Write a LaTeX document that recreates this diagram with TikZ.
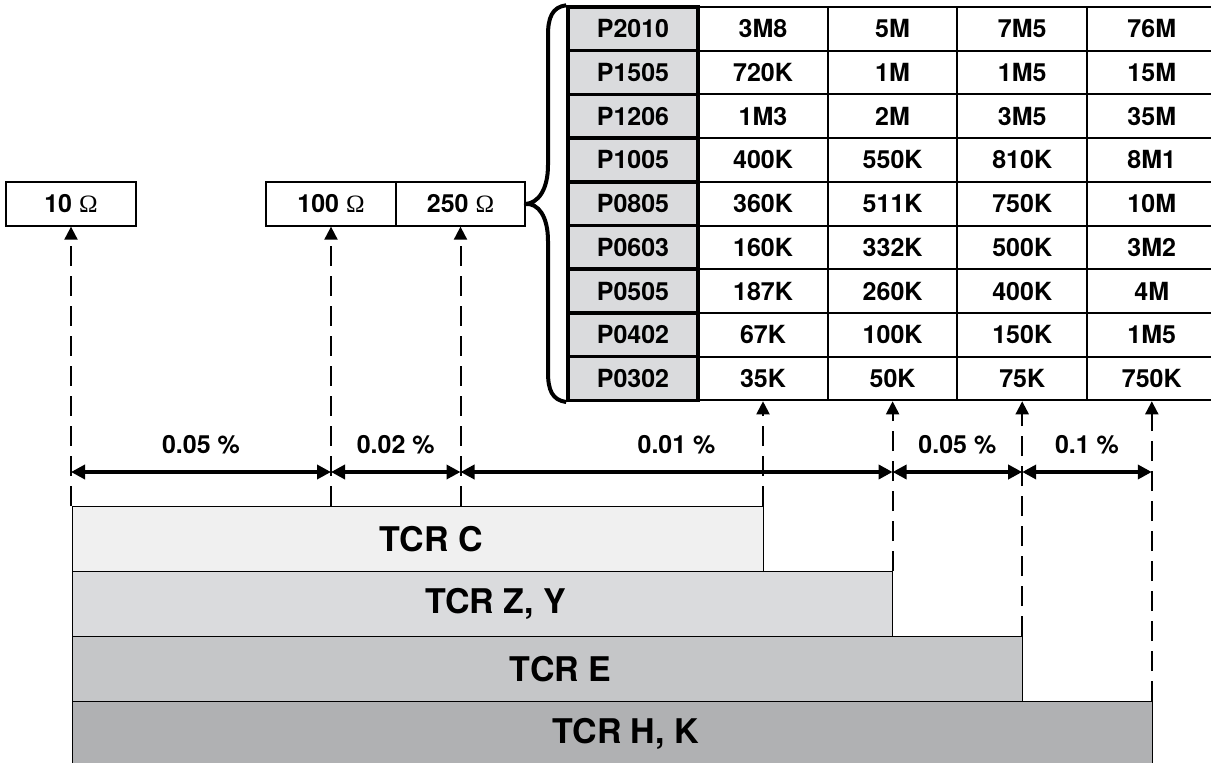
\documentclass[tikz,border=0pt]{standalone}
\usepackage{fontspec}
\setmainfont{TeX Gyre Heros}
\newfontfamily\omegafont{Liberation Serif}
\usepackage{tikz}
\usetikzlibrary{arrows.meta}
\definecolor{tcrpale}{HTML}{F0F0F0}
\definecolor{tcrlight}{HTML}{DADBDD}
\definecolor{tcrmid}{HTML}{C5C6C8}
\definecolor{tcrdark}{HTML}{B0B1B3}
\newcommand{\ohm}{{\omegafont\mdseries Ω}}

\begin{document}
\begin{tikzpicture}[x=1pt,y=-1pt,
 txt/.style={font=\fontsize{25}{29}\selectfont\bfseries},
 res/.style={draw,line width=1.3pt,minimum width=130pt,minimum height=44pt,inner sep=0pt,txt},
 vcell/.style={draw,line width=2pt,minimum width=129.6pt,minimum height=43.7pt,inner sep=0pt,txt},
 pcell/.style={draw,line width=3.5pt,fill=tcrlight,minimum width=130pt,minimum height=43.7pt,inner sep=0pt,txt},
 bar/.style={draw,line width=1.3pt,anchor=north west,minimum height=65pt,inner sep=0pt,
 label={[font=\fontsize{34}{40}\selectfont\bfseries,xshift=13pt]center:#1}},
 pct/.style={above=16pt,inner sep=0pt,txt},
 dim/.style={line width=4.5pt,{Triangle[length=14pt,width=14pt]}-{Triangle[length=14pt,width=14pt]}},
 lead/.style={line width=2pt,dash pattern=on 20pt off 10pt,-{Triangle[length=13pt,width=13pt]}}]
\useasboundingbox (0,0) rectangle (1211,763);
\clip (0,0) rectangle (1211,763);

% resistance values
\node[res] (o10) at (71,204) {10 \ohm};
\node[res] (o100) at (331,204) {100 \ohm};
\node[res,minimum width=129pt] (o250) at (460.5,204) {250 \ohm};

% size table
\foreach \code/\va/\vb/\vc/\vd [count=\row] in {P2010/3M8/5M/7M5/76M,P1505/720K/1M/1M5/15M,
 P1206/1M3/2M/3M5/35M,P1005/400K/550K/810K/8M1,P0805/360K/511K/750K/10M,
 P0603/160K/332K/500K/3M2,P0505/187K/260K/400K/4M,P0402/67K/100K/150K/1M5,
 P0302/35K/50K/75K/750K}{
 \foreach \val [count=\col] in {\va,\vb,\vc,\vd}
 \node[vcell] (cell-\row-\col) at ({633.4+129.6*\col},{7+43.7*(\row-0.5)}) {\val};
 \node[pcell] (code-\row) at (633,{7+43.7*(\row-0.5)}) {\code};
}

% brace
\draw[line width=4pt,line join=round] (code-1.north west) .. controls (552,7) and (548,18) .. (548,35)
 -- (548,165) .. controls (548,190) and (538,203) .. (o250.east)
 .. controls (538,203) and (548,216) .. (548,241) -- (548,372)
 .. controls (548,390) and (552,400) .. (code-9.south west);

% TCR bars
\node[bar={TCR C},fill=tcrpale,minimum width=691pt] (tcrC) at (72,506) {};
\node[bar={TCR Z, Y},fill=tcrlight,minimum width=820pt] (tcrZ) at (72,571) {};
\node[bar={TCR E},fill=tcrmid,minimum width=950pt] (tcrE) at (72,636) {};
\node[bar={TCR H, K},fill=tcrdark,minimum width=1080pt] (tcrH) at (72,701) {};

% leaders
\draw[lead] (o10 |- tcrC.north) -- (o10.south);
\draw[lead] (o100 |- tcrC.north) -- (o100.south);
\draw[lead] (o250 |- tcrC.north) -- (o250.south);
\draw[lead] (cell-9-1 |- tcrC.north) -- (cell-9-1.south);
\draw[lead] (cell-9-2 |- tcrZ.north) -- (cell-9-2.south);
\draw[lead] (cell-9-3 |- tcrE.north) -- (cell-9-3.south);
\draw[lead] (cell-9-4 |- tcrH.north) -- (cell-9-4.south);

% tolerance ranges
\coordinate (dimy) at (0,472);
\draw[dim] (o10 |- dimy) -- node[pct]{0.05 \%} (o100 |- dimy);
\draw[dim] (o100 |- dimy) -- node[pct]{0.02 \%} (o250 |- dimy);
\draw[dim] (o250 |- dimy) -- node[pct]{0.01 \%} (cell-9-2 |- dimy);
\draw[dim] (cell-9-2 |- dimy) -- node[pct]{0.05 \%} (cell-9-3 |- dimy);
\draw[dim] (cell-9-3 |- dimy) -- node[pct]{0.1 \%} (cell-9-4 |- dimy);
\end{tikzpicture}
\end{document}
